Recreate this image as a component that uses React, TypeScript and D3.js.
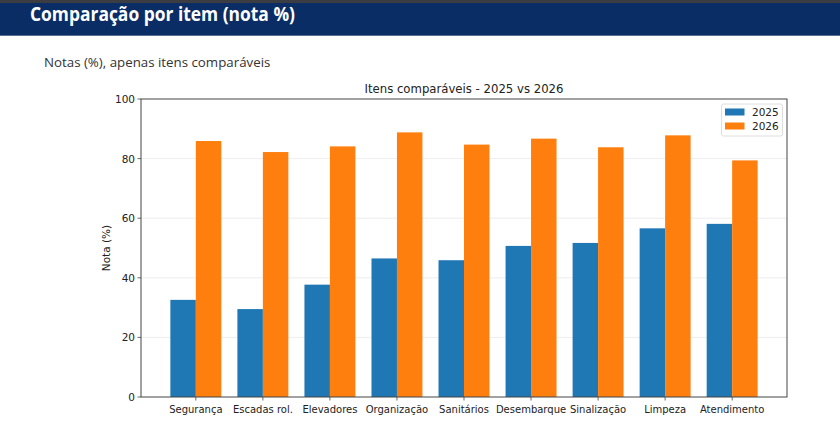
import React from "react";
import * as d3 from "d3";

const categories = ["Segurança", "Escadas rol.", "Elevadores", "Organização", "Sanitários", "Desembarque", "Sinalização", "Limpeza", "Atendimento"];
const values2025 = [32.6, 29.5, 37.7, 46.5, 45.9, 50.7, 51.7, 56.6, 58.1];
const values2026 = [85.9, 82.2, 84.1, 88.8, 84.7, 86.7, 83.8, 87.8, 79.4];
const yTicks = [0, 20, 40, 60, 80, 100];
const seriesNames = ["2025", "2026"];

const W = 840, H = 424;
const plot = { left: 141, right: 787, top: 99, bottom: 397 };
const barW = 0.38;
const colors = ["#1f77b4", "#ff7f0e"];
const font = "DejaVu Sans, sans-serif";

export default function App() {
  const n = categories.length;
  const lo = -barW, hi = n - 1 + barW;
  const pad = (hi - lo) * 0.05;
  const x = d3.scaleLinear().domain([lo - pad, hi + pad]).range([plot.left, plot.right]);
  const y = d3.scaleLinear().domain([0, 100]).range([plot.bottom, plot.top]);
  const series = [values2025, values2026];

  return (
    <svg width={W} height={H} style={{ position: "absolute", left: 0, top: 0, background: "#fff" }}>
      <rect x={0} y={0} width={W} height={H} fill="#fff" />
      {/* header */}
      <rect x={0} y={0} width={W} height={36} fill="#0b2d66" />
      <rect x={0} y={0} width={W} height={3} fill="#3b3d42" />
      <rect x={0} y={35} width={W} height={1} fill="#5a6f90" />
      <text x={30} y={21} fill="#fff" fontFamily="Open Sans, sans-serif" fontWeight={700} fontSize={19} textLength={265} lengthAdjust="spacingAndGlyphs">Comparação por item (nota %)</text>
      <text x={44} y={67} fill="#333" fontFamily="Open Sans, sans-serif" fontSize={13.3}>Notas (%), apenas itens comparáveis</text>

      {/* chart title */}
      <text x={(plot.left + plot.right) / 2} y={93} textAnchor="middle" fill="#222" fontFamily={font} fontSize={11.7}>Itens comparáveis - 2025 vs 2026</text>

      {/* grid */}
      {yTicks.filter(t => t > 0 && t < 100).map(t => (
        <line key={t} x1={plot.left} x2={plot.right} y1={y(t)} y2={y(t)} stroke="#e8e8e8" strokeWidth={0.8} />
      ))}

      {/* bars */}
      {series.map((vals, si) => vals.map((v, i) => {
        const x0 = si === 0 ? x(i - barW) : x(i);
        const x1 = si === 0 ? x(i) : x(i + barW);
        return <rect key={si + "-" + i} x={x0} y={y(v)} width={x1 - x0} height={y(0) - y(v)} fill={colors[si]} />;
      }))}

      {/* spines */}
      <rect x={plot.left} y={plot.top} width={plot.right - plot.left} height={plot.bottom - plot.top} fill="none" stroke="#444" strokeWidth={1} />

      {/* y ticks */}
      {yTicks.map(t => (
        <g key={t}>
          <line x1={plot.left - 3.5} x2={plot.left} y1={y(t)} y2={y(t)} stroke="#444" strokeWidth={0.8} />
          <text x={plot.left - 6} y={y(t) + 4} textAnchor="end" fill="#222" fontFamily={font} fontSize={10.5}>{t}</text>
        </g>
      ))}
      <text transform={`translate(110,${(plot.top + plot.bottom) / 2}) rotate(-90)`} textAnchor="middle" fill="#222" fontFamily={font} fontSize={10.5}>Nota (%)</text>

      {/* x ticks */}
      {categories.map((c, i) => (
        <g key={c}>
          <line x1={x(i)} x2={x(i)} y1={plot.bottom} y2={plot.bottom + 3.5} stroke="#444" strokeWidth={0.8} />
          <text x={x(i)} y={plot.bottom + 16} textAnchor="middle" fill="#222" fontFamily={font} fontSize={10}>{c}</text>
        </g>
      ))}

      {/* legend */}
      <rect x={721.5} y={104} width={61} height={32} fill="#fff" fillOpacity={0.8} stroke="#d6d6d6" strokeWidth={0.8} rx={2} />
      {seriesNames.map((s, i) => (
        <g key={s}>
          <rect x={725} y={108.5 + i * 14} width={19.5} height={7} fill={colors[i]} />
          <text x={752} y={116 + i * 14} fill="#222" fontFamily={font} fontSize={10.5}>{s}</text>
        </g>
      ))}
    </svg>
  );
}
